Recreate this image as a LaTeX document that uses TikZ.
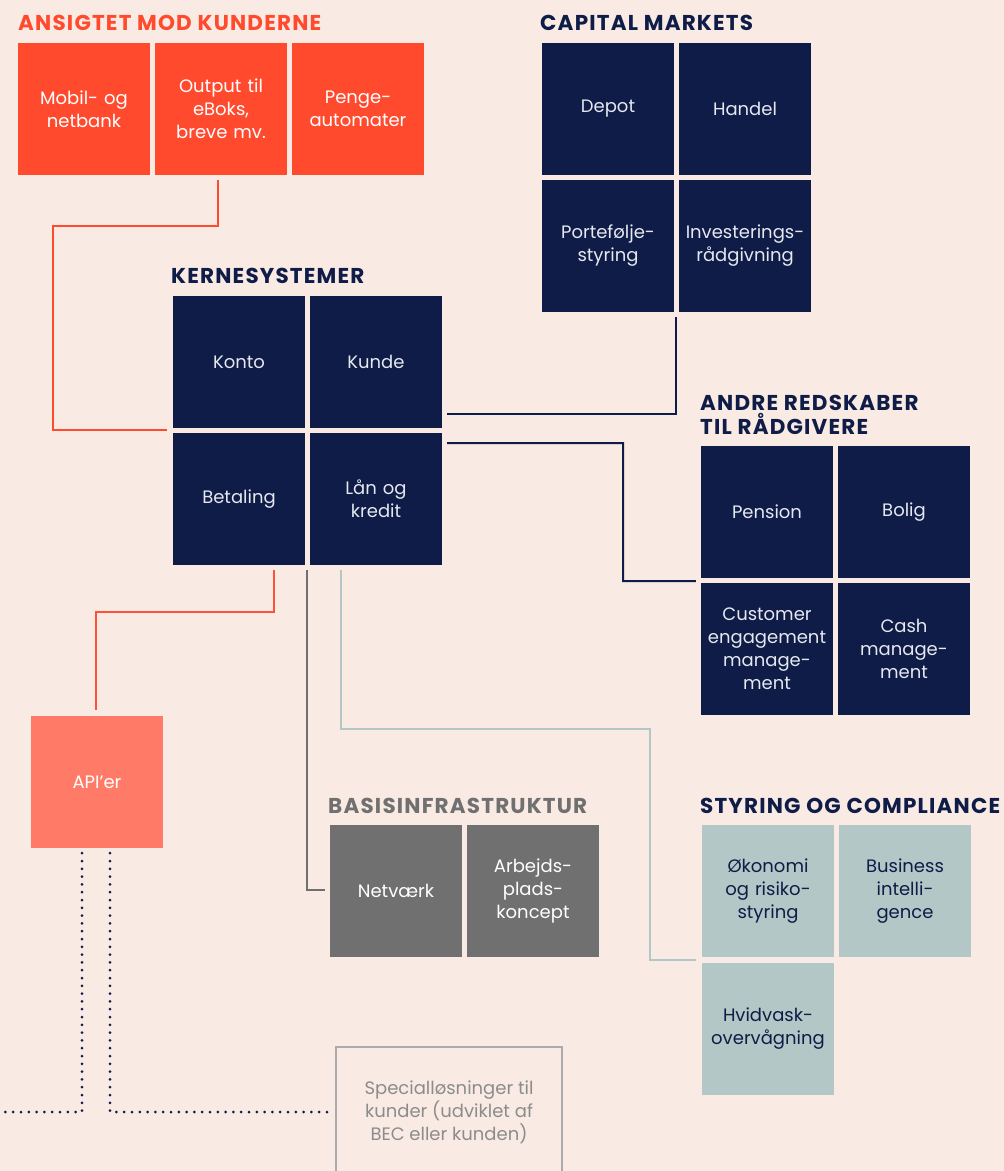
\documentclass[tikz,border=0pt]{standalone}
\usepackage{fontspec}
\setmainfont{Poppins}
\newfontfamily\ttlfont[LetterSpace=5.5]{Poppins}
\usetikzlibrary{calc}
\definecolor{bgc}{HTML}{F9EAE3}
\definecolor{navy}{HTML}{0E1C47}
\definecolor{redc}{HTML}{FF4A2E}
\definecolor{apic}{HTML}{FF7B68}
\definecolor{grayc}{HTML}{707070}
\definecolor{tealc}{HTML}{B3C7C6}
\definecolor{lighttxt}{HTML}{E6E8F0}
\definecolor{spc}{HTML}{ABABAB}
\definecolor{sptxt}{HTML}{8C8C8C}
\begin{document}
\begin{tikzpicture}[x=1pt,y=-1pt,
  box/.style={minimum width=132pt,minimum height=132pt,inner sep=0pt,align=center,text width=130pt,
    font=\fontsize{18pt}{23pt}\selectfont},
  navybox/.style={box,fill=navy,text=lighttxt},
  redbox/.style={box,fill=redc,text=white},
  apibox/.style={box,fill=apic,text=white},
  graybox/.style={box,fill=grayc,text=white},
  tealbox/.style={box,fill=tealc,text=navy},
  ttl/.style={anchor=base west,inner sep=0pt,font=\ttlfont\fontsize{21.5pt}{24pt}\selectfont\bfseries,align=left},
  navyl/.style={draw=navy,line width=2pt},
  redl/.style={draw=redc,line width=2pt},
  apil/.style={draw=redc!85!apic,line width=2pt},
  grayl/.style={draw=grayc,line width=2pt},
  teall/.style={draw=tealc,line width=2.5pt},
  dotl/.style={draw=navy,line width=3pt,line cap=round,dash pattern=on 0pt off 7.8pt}
]
\fill[bgc] (0,0) rectangle (1004,1171);
\useasboundingbox (0,0) rectangle (1004,1171);
\clip (0,0) rectangle (1004,1171);

% titles
\node[ttl,text=redc] (t1) at (18,30) {ANSIGTET MOD KUNDERNE};
\node[ttl,text=navy] (t2) at (540,30) {CAPITAL MARKETS};
\node[ttl,text=navy] (t3) at (171,283) {KERNESYSTEMER};
\node[ttl,text=navy] (t4) at (700,410) {ANDRE REDSKABER};
\node[ttl,text=navy] (t4b) at (700,434) {TIL RÅDGIVERE};
\node[ttl,text=grayc] (t5) at (328,813) {BASISINFRASTRUKTUR};
\node[ttl,text=navy] (t6) at (700,813) {STYRING OG COMPLIANCE};

% customer facing
\node[redbox] (Mobil) at (84,109) {Mobil- og\\netbank};
\node[redbox] (Output) at (221,109) {Output til\\eBoks,\\breve mv.};
\node[redbox] (Penge) at (358,109) {Penge-\\automater};

% capital markets
\node[navybox] (Depot) at (608,109) {Depot};
\node[navybox] (Handel) at (745,109) {Handel};
\node[navybox] (Portef) at (608,246) {Portefølje-\\styring};
\node[navybox] (Invest) at (745,246) {Investerings-\\rådgivning};

% core
\node[navybox] (Konto) at (239,362) {Konto};
\node[navybox] (Kunde) at (376,362) {Kunde};
\node[navybox] (Betaling) at (239,499) {Betaling};
\node[navybox] (Lan) at (376,499) {Lån og\\kredit};

% advisor tools
\node[navybox] (Pension) at (767,512) {Pension};
\node[navybox] (Bolig) at (904,512) {Bolig};
\node[navybox] (Customer) at (767,649) {Customer\\engagement\\manage-\\ment};
\node[navybox] (Cash) at (904,649) {Cash\\manage-\\ment};

% compliance
\node[tealbox] (Okonomi) at (768,891) {Økonomi\\og risiko-\\styring};
\node[tealbox] (Business) at (905,891) {Business\\intelli-\\gence};
\node[tealbox] (Hvidvask) at (768,1029) {Hvidvask-\\overvågning};

% infrastructure
\node[graybox] (Netvaerk) at (396,891) {Netværk};
\node[graybox] (Arbejds) at (533,891) {Arbejds-\\plads-\\koncept};

% API
\node[apibox] (API) at (97,782) {API’er};

% special
\node[draw=spc,line width=2.5pt,minimum width=226pt,minimum height=130pt,inner sep=0pt,align=center,
  text=sptxt,font=\fontsize{18pt}{23pt}\selectfont] (Special) at (449,1112)
  {Specialløsninger til\\kunder (udviklet af\\BEC eller kunden)};

\coordinate (leftend) at (0,1112);

% connectors
\draw[redl] ([shift={(-3,5)}]Output.south) |- (53,226) |- ([shift={(-6,2)}]Konto.south west);
\draw[navyl] ([shift={(2,5)}]Portef.south east) |- ([shift={(5,-14)}]Kunde.south east);
\draw[navyl] ([shift={(5,15)}]Kunde.south east) -| (623,581) -- ([shift={(-5,3)}]Pension.south west);
\draw[teall] ([shift={(-35,5)}]Lan.south) |- (650,729) |- ([shift={(-6,3)}]Okonomi.south west);
\draw[grayl] ([shift={(-3,5)}]Lan.south west) |- ([shift={(-5,-1)}]Netvaerk.west);
\draw[apil] ([shift={(-31,5)}]Betaling.south east) -- ++(0,42) -| ([shift={(-1,-6)}]API.north);
\draw[dotl] ([shift={(-15,5)}]API.south) |- (leftend);
\draw[dotl] ([shift={(13,5)}]API.south) |- ([shift={(-6,0)}]Special.west);
\end{tikzpicture}
\end{document}
